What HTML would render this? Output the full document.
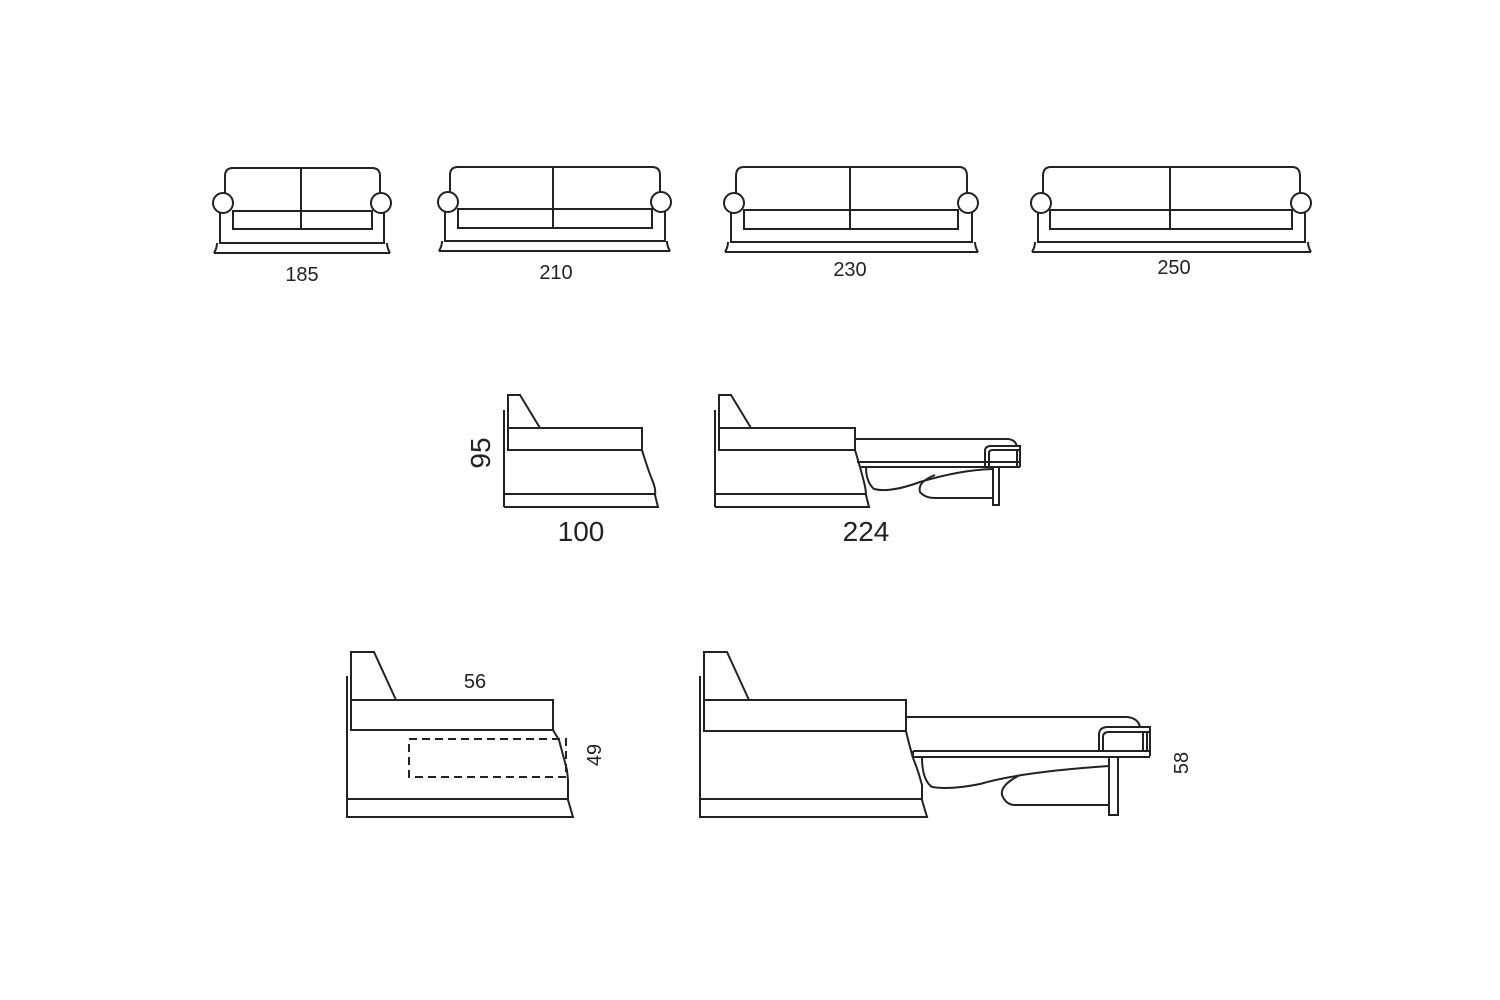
<!DOCTYPE html>
<html><head><meta charset="utf-8"><style>
html,body{margin:0;padding:0;background:#fff;width:1500px;height:1000px;overflow:hidden}
svg text{font-family:"Liberation Sans",sans-serif;fill:#222}
</style></head><body>
<svg width="1500" height="1000" viewBox="0 0 1500 1000" xmlns="http://www.w3.org/2000/svg">
<g fill="none" stroke="#222" stroke-width="2">
<!-- 185 -->
<path d="M225 193 V176 Q225 168 233 168 H372 Q380 168 380 176 V193"/>
<circle cx="223" cy="203" r="10" fill="#fff"/><circle cx="381" cy="203" r="10" fill="#fff"/>
<rect x="233" y="211" width="139" height="18"/>
<line x1="301" y1="168" x2="301" y2="229"/>
<path d="M220 212 V243 H384 V212"/>
<path d="M214 253 Q217 248 217 243 M390 253 Q387 248 387 243 M214 253 H390"/>
<!-- 210 -->
<path d="M450 192 V175 Q450 167 458 167 H652 Q660 167 660 175 V192"/>
<circle cx="448" cy="202" r="10" fill="#fff"/><circle cx="661" cy="202" r="10" fill="#fff"/>
<rect x="458" y="209" width="194" height="19"/>
<line x1="553" y1="167" x2="553" y2="228"/>
<path d="M445 211 V241 H665 V211"/>
<path d="M439 251 Q442 246 442 241 M670 251 Q667 246 667 241 M439 251 H670"/>
<!-- 230 -->
<path d="M736 193 V176 Q736 167 744 167 H959 Q967 167 967 176 V193"/>
<circle cx="734" cy="203" r="10" fill="#fff"/><circle cx="968" cy="203" r="10" fill="#fff"/>
<rect x="744" y="210" width="214" height="19"/>
<line x1="850" y1="167" x2="850" y2="229"/>
<path d="M731 212 V242 H972 V212"/>
<path d="M725 252 Q728 247 728 242 M978 252 Q975 247 975 242 M725 252 H978"/>
<!-- 250 -->
<path d="M1043 193 V176 Q1043 167 1051 167 H1292 Q1300 167 1300 176 V193"/>
<circle cx="1041" cy="203" r="10" fill="#fff"/><circle cx="1301" cy="203" r="10" fill="#fff"/>
<rect x="1050" y="210" width="242" height="19"/>
<line x1="1170" y1="167" x2="1170" y2="229"/>
<path d="M1038 212 V242 H1305 V212"/>
<path d="M1032 252 Q1035 247 1035 242 M1311 252 Q1308 247 1308 242 M1032 252 H1311"/>

<!-- middle left -->
<path d="M504 410 V507"/>
<path d="M508 428 V395 H520 L540 428"/>
<rect x="508" y="428" width="134" height="22"/>
<path d="M642 450 Q648 470 653 482 Q656 490 655 495 L658 507 H504 M504 494 H655"/>
<!-- middle right -->
<path d="M715 410 V507"/>
<path d="M719 428 V395 H731 L751 428"/>
<rect x="719" y="428" width="136" height="22"/>
<path d="M855 450 Q861 470 864 482 Q866 490 866 495 L869 507 H715 M715 494 H866"/>
<path d="M855 439 H1008 Q1016 440 1017 447"/>
<path d="M985 467 V451 Q985 446 991 446 H1020 V467"/>
<path d="M989 467 V453 Q989 450 993 450 H1020 M1017 450 V467"/>
<path d="M857 462 H1020 M861 467 H1020"/>
<path d="M993 467 V505 H999 V467"/>
<path d="M866 467 Q866 482 874 489 Q890 493 920 482 Q960 470 993 469"/>
<path d="M935 475 Q917 482 920 492 Q925 498 935 498 H993"/>

<!-- bottom left -->
<path d="M347 676 V817 H573 L568 800 V780 L567 770 L559 740 L553 730"/>
<path d="M347 799 H568"/>
<path d="M351 700 V652 H374 L396 700"/>
<rect x="351" y="700" width="202" height="30"/>
<rect x="409" y="739" width="157" height="38" stroke-dasharray="8,5"/>
<!-- bottom right -->
<path d="M700 676 V817 H927 L922 800 V785 Q918 770 913 758 Q908 740 906 731"/>
<path d="M700 799 H922"/>
<path d="M704 700 V652 H727 L749 700"/>
<rect x="704" y="700" width="202" height="31"/>
<path d="M906 717 H1127 Q1138 718 1140 727"/>
<path d="M1099 751 V735 Q1099 727 1108 727 H1150 V756"/>
<path d="M1103 751 V737 Q1103 732 1109 732 H1150 M1143 732 V751 M1147 732 V751"/>
<path d="M913 751 H1150 M913 757 H1150 M913 751 V757"/>
<path d="M1109 757 V815 H1118 V757"/>
<path d="M922 757 Q922 780 932 787 Q950 790 980 784 Q1020 772 1109 766"/>
<path d="M1020 775 Q1000 785 1002 795 Q1006 805 1015 805 H1109"/>
</g>
<g font-size="20">
<text x="302" y="281" text-anchor="middle">185</text>
<text x="556" y="279" text-anchor="middle">210</text>
<text x="850" y="276" text-anchor="middle">230</text>
<text x="1174" y="274" text-anchor="middle">250</text>
<text x="475" y="688" text-anchor="middle">56</text>
<text transform="translate(601,755) rotate(-90)" text-anchor="middle">49</text>
<text transform="translate(1188,763) rotate(-90)" text-anchor="middle">58</text>
</g>
<g font-size="28">
<text x="581" y="541" text-anchor="middle">100</text>
<text x="866" y="541" text-anchor="middle">224</text>
<text transform="translate(490,453) rotate(-90)" text-anchor="middle">95</text>
</g>
</svg>
</body></html>
